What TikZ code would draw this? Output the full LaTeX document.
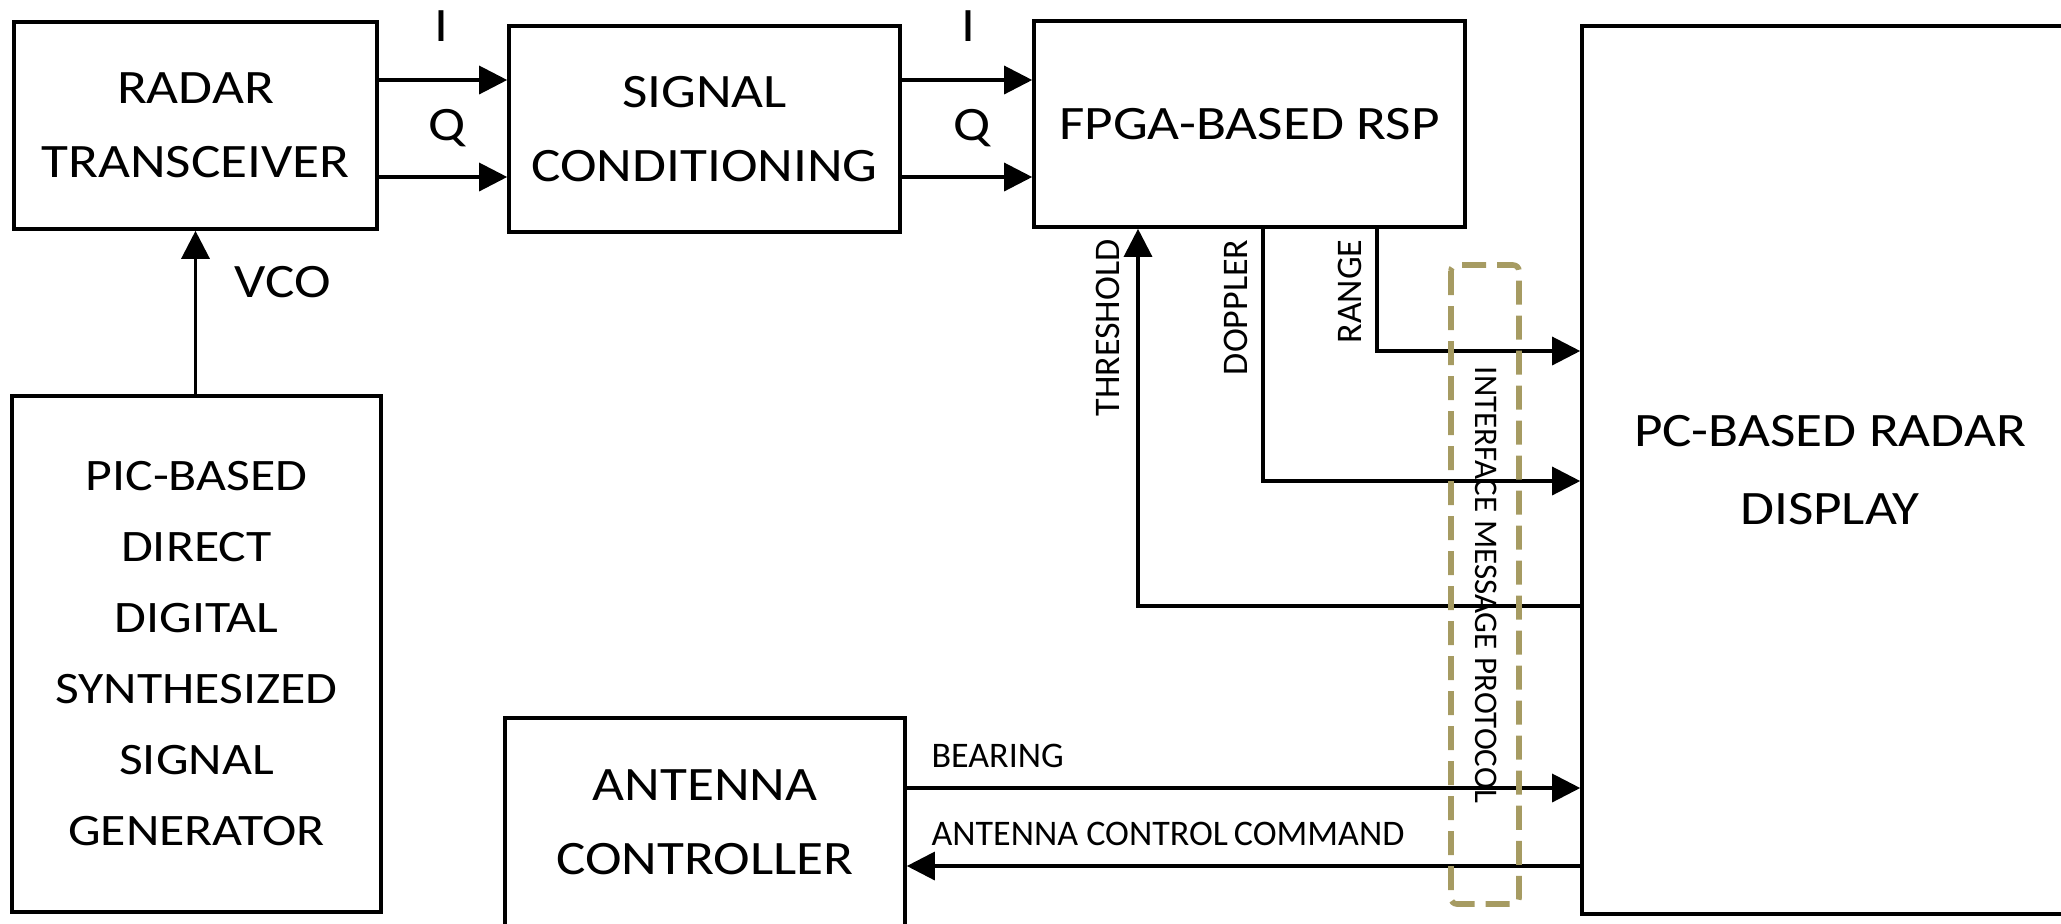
\documentclass[tikz,border=0pt]{standalone}
\usepackage{fontspec}
\setmainfont{Carlito}
\newfontfamily\blockfont{Carlito}[FakeStretch=1.15]
\usetikzlibrary{arrows.meta}

\definecolor{protocol}{RGB}{166,155,98}

\tikzset{
    block/.style={draw, line width=1.8pt, align=center, inner sep=0pt},
    tag/.style={inner sep=0pt},
}

\begin{document}
\begin{tikzpicture}[x=0.5pt, y=-0.5pt, line width=1.6pt,
                    >={Triangle[length=14pt,width=14pt]}]
    \clip (0,0) rectangle (2061,923);

    % blocks
    \blockfont\fontsize{24}{37}\selectfont
    \node[block, minimum width=181.5pt, minimum height=103.5pt] (radar)   at (195.5,125.5) {RADAR\\TRANSCEIVER};
    \node[block, minimum width=195.5pt, minimum height=103pt]   (sigcond) at (704.5,129)   {SIGNAL\\CONDITIONING};
    \node[block, minimum width=215.5pt, minimum height=103pt]   (rsp)     at (1249.5,124)  {FPGA-BASED RSP};
    \node[block, minimum width=248pt,   minimum height=444pt,
          font=\fontsize{24}{39}\selectfont]                    (display) at (1830,470)    {PC-BASED RADAR\\DISPLAY};
    \node[block, minimum width=184.5pt, minimum height=258pt,
          font=\fontsize{22.5}{35.5}\selectfont]                (pic)     at (196.5,654)   {PIC-BASED\\DIRECT\\DIGITAL\\SYNTHESIZED\\SIGNAL\\GENERATOR};
    \node[block, minimum width=200pt,   minimum height=104pt]   (antenna) at (705,822)     {ANTENNA\\CONTROLLER};

    % signal levels and bends
    \coordinate (ilev)     at (0,80);
    \coordinate (qlev)     at (0,177);
    \coordinate (rangebend) at (1377,351);
    \coordinate (dopbend)   at (1263,481);
    \coordinate (thrbend)   at (1138,606);
    \coordinate (bearlev)  at (0,788);
    \coordinate (cmdlev)   at (0,866);

    \node[tag] (i1) at (441,26)  {I};
    \node[tag] (q1) at (447,128) {Q};
    \node[tag] (i2) at (968,26)  {I};
    \node[tag] (q2) at (972,128) {Q};
    \node[tag] (vco) at (283,282) {VCO};

    \draw [->] (radar.east |- ilev)   -- (sigcond.west |- ilev);
    \draw [->] (radar.east |- qlev)   -- (sigcond.west |- qlev);
    \draw [->] (sigcond.east |- ilev) -- (rsp.west |- ilev);
    \draw [->] (sigcond.east |- qlev) -- (rsp.west |- qlev);
    \draw [->] (radar.south |- pic.north) -- (radar.south);

    % rsp <-> display
    \draw [->] (rangebend |- rsp.south) -- (rangebend) -- (display.west |- rangebend);
    \draw [->] (dopbend |- rsp.south)   -- (dopbend)   -- (display.west |- dopbend);
    \draw [->] (display.west |- thrbend) -- (thrbend)  -- (thrbend |- rsp.south);

    % antenna <-> display
    \draw [->] (antenna.east |- bearlev) -- (display.west |- bearlev);
    \draw [->] (display.west |- cmdlev)  -- (antenna.east |- cmdlev);

    \normalfont\fontsize{18}{22}\selectfont
    \node[tag, rotate=90, anchor=east] (thrlabel)   at (1108,238) {THRESHOLD};
    \node[tag, rotate=90, anchor=east] (doplabel)   at (1236,238) {DOPPLER};
    \node[tag, rotate=90, anchor=east] (rangelabel) at (1350,238) {RANGE};
    \node[tag, anchor=base west] (bearlabel) at (930,767) {BEARING};
    \node[tag, anchor=base west] (cmdlabel)  at (930,845) {ANTENNA CONTROL\,COMMAND};

    % message protocol
    \node[tag, rotate=-90, font=\fontsize{16.5}{20}\selectfont] (protolabel) at (1486,585) {INTERFACE MESSAGE PROTOCOL};
    \draw [protocol, line width=2.8pt, dash pattern=on 12pt off 5.5pt, rounded corners=3pt]
        (1451,265) rectangle (1519,904);
\end{tikzpicture}
\end{document}
